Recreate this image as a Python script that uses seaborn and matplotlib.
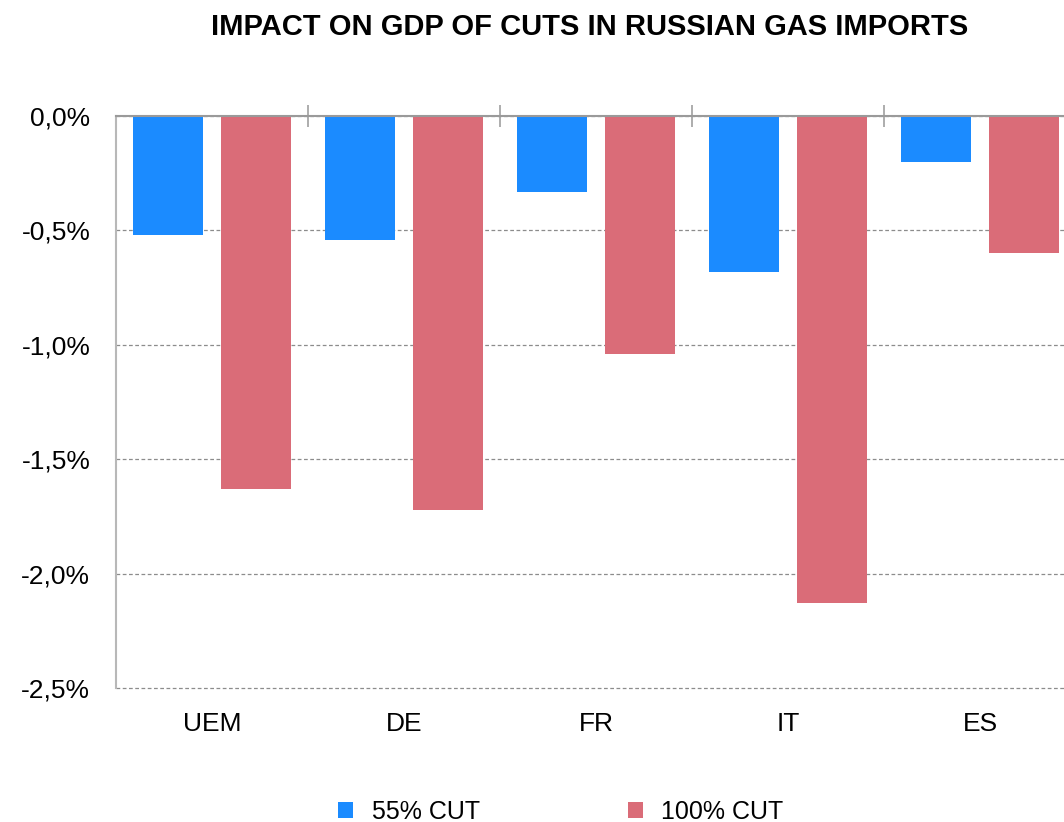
import numpy as np
import pandas as pd
import matplotlib
matplotlib.use("Agg")
import matplotlib.pyplot as plt
from matplotlib.ticker import FuncFormatter, FixedLocator
import seaborn as sns

# values (% of GDP)
countries = ["UEM", "DE", "FR", "IT", "ES"]
cut_55 = [-0.52, -0.54, -0.33, -0.68, -0.20]
cut_100 = [-1.63, -1.72, -1.04, -2.13, -0.60]
series_names = ["55% CUT", "100% CUT"]
colors = ["#1B8BFF", "#DA6C78"]

df = pd.DataFrame({
    "country": countries * 2,
    "value": cut_55 + cut_100,
    "scenario": [series_names[0]] * len(countries) + [series_names[1]] * len(countries),
})

sns.set_style("white")
plt.rcParams["font.family"] = ["Liberation Sans", "DejaVu Sans"]
plt.rcParams["text.color"] = "black"
plt.rcParams["xtick.color"] = "black"
plt.rcParams["ytick.color"] = "black"

fig = plt.figure(figsize=(10.64, 8.22), dpi=100)
ax = fig.add_axes([116 / 1064, 1 - 688 / 822, 960 / 1064, 572 / 822])

sns.barplot(data=df, x="country", y="value", hue="scenario", palette=colors,
            width=0.92, gap=0.2, ax=ax, saturation=1, edgecolor="none")

ax.set_ylim(-2.5, 0)
ax.set_xlim(-0.5, len(countries) - 0.5)
ax.set_yticks(np.arange(-2.5, 0.01, 0.5))
ax.yaxis.set_major_formatter(FuncFormatter(lambda v, p: f"{v:.1f}%".replace(".", ",")))

# dashed grid, solid zero line at top
ax.yaxis.grid(True, color="#8c8c8c", linestyle=(0, (3, 2)), linewidth=0.9)
for gl in ax.yaxis.get_gridlines():
    gl.set_clip_on(False)
ax.set_axisbelow(True)
for s in ["right", "bottom"]:
    ax.spines[s].set_visible(False)
ax.spines["top"].set_color("#9a9a9a")
ax.spines["top"].set_linewidth(1.5)
ax.spines["left"].set_color("#b8b8b8")
ax.spines["left"].set_linewidth(1.5)

# category separators on the zero line
ax.xaxis.set_minor_locator(FixedLocator(np.arange(0.5, len(countries) - 0.5, 1)))
ax.tick_params(axis="x", which="minor", top=True, bottom=False, direction="inout",
               length=16, width=1.2, color="#a0a0a0")
ax.tick_params(axis="x", which="major", bottom=False, labelsize=19, pad=14)
ax.tick_params(axis="y", left=False, labelsize=19, pad=15)
ax.set_xlabel("")
ax.set_ylabel("")

fig.suptitle("IMPACT ON GDP OF CUTS IN RUSSIAN GAS IMPORTS", x=590 / 1064, y=1 - 13 / 822,
             fontsize=21, fontweight="bold", va="top")

ax.legend(loc="center", bbox_to_anchor=(561 / 1064, 1 - 812 / 822), bbox_transform=fig.transFigure,
          ncol=2, frameon=False, fontsize=18, handlelength=0.6, handleheight=0.6,
          handletextpad=0.75, columnspacing=5.9)

fig.savefig("out.png", dpi=100)
